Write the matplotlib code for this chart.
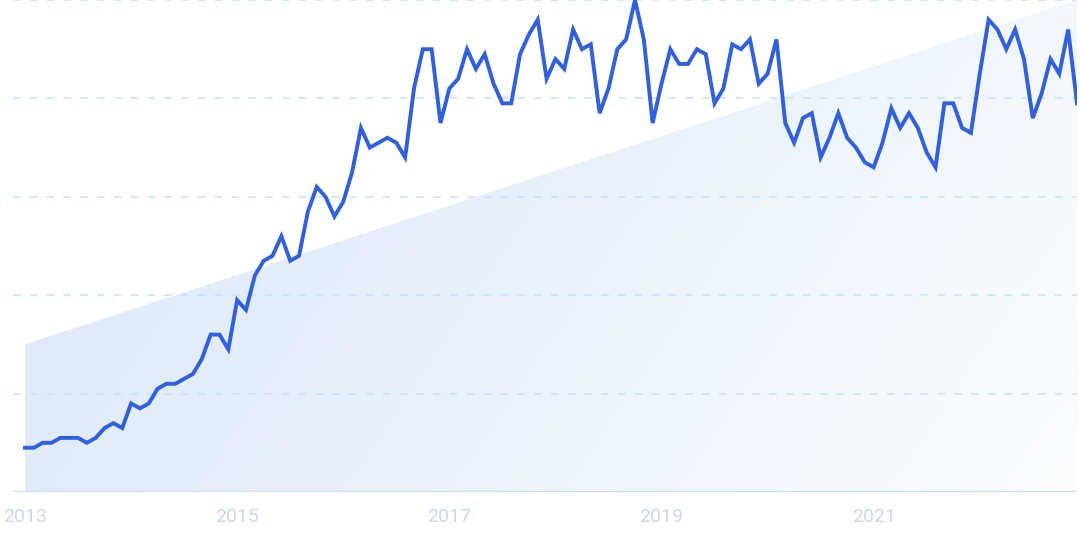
import numpy as np
import matplotlib
matplotlib.use("Agg")
import matplotlib.pyplot as plt
from matplotlib.patches import Polygon
from matplotlib.colors import LinearSegmentedColormap

# Monthly index values, Jan 2013 - Dec 2022
values = [9, 9, 10, 10, 11, 11, 11, 10, 11, 13, 14, 13,
          18, 17, 18, 21, 22, 22, 23, 24, 27, 32, 32, 29,
          39, 37, 44, 47, 48, 52, 47, 48, 57, 62, 60, 56,
          59, 65, 74, 70, 71, 72, 71, 68, 82, 90, 90, 75,
          82, 84, 90, 86, 89, 83, 79, 79, 89, 93, 96, 84,
          88, 86, 94, 90, 91, 77, 82, 90, 92, 100, 92, 75,
          83, 90, 87, 87, 90, 89, 79, 82, 91, 90, 92, 83,
          85, 92, 75, 71, 76, 77, 68, 72, 77, 72, 70, 67,
          66, 71, 78, 74, 77, 74, 69, 66, 79, 79, 74, 73,
          85, 96, 94, 90, 94, 88, 76, 81, 88, 85, 94, 79]
tick_positions = [0, 24, 48, 72, 96]
tick_labels = ["2013", "2015", "2017", "2019", "2021"]
trend_start, trend_end = 30, 100
grid_levels = [20, 40, 60, 80, 100]

W, H = 1080, 539
fig = plt.figure(figsize=(W / 100, H / 100), dpi=100)
left_px, right_px, base_px = 13, 1077, 492
ax = fig.add_axes([left_px / W, (H - base_px) / H, (right_px - left_px) / W, base_px / H])
n = len(values)
x = np.arange(n)
xmin = -(25 - left_px) / ((right_px - 25) / (n - 1))
ax.set_xlim(xmin, n - 1)
ax.set_ylim(0, 100)

# gradient-filled trend polygon
cmap = LinearSegmentedColormap.from_list("g", ["#dbe8f9", "#e9f1fb", "#fbfdff"])
gx, gy = np.meshgrid(np.linspace(0, 1, 300), np.linspace(0, 1, 200))
grad = (gx * 0.8 + gy * 0.25)
img = ax.imshow(grad, extent=[0, n - 1, 0, 100], origin="upper", cmap=cmap,
                aspect="auto", zorder=0, vmin=0, vmax=1.05)
poly = Polygon([[0, 0], [0, trend_start], [n - 1, trend_end], [n - 1, 0]],
               closed=True, transform=ax.transData, facecolor="none", edgecolor="none")
ax.add_patch(poly)
img.set_clip_path(poly)

for g in grid_levels:
    ax.axhline(g, color="#c6e2fb", lw=1.1, ls=(0, (5, 6)), zorder=1)
ax.axhline(0, color="#cadffa", lw=1.6, zorder=1)

ax.plot(x, values, color="#2f5fe3", lw=2.8, solid_joinstyle="miter", zorder=3)

for p, lab in zip(tick_positions, tick_labels):
    ax.text(p, -3.2, lab, ha="center", va="top", fontsize=14, family="Roboto",
            color="#cbd6f2")

for s in ax.spines.values():
    s.set_visible(False)
ax.set_xticks([])
ax.set_yticks([])
ax.patch.set_alpha(0)

fig.savefig("out.png", dpi=100)
